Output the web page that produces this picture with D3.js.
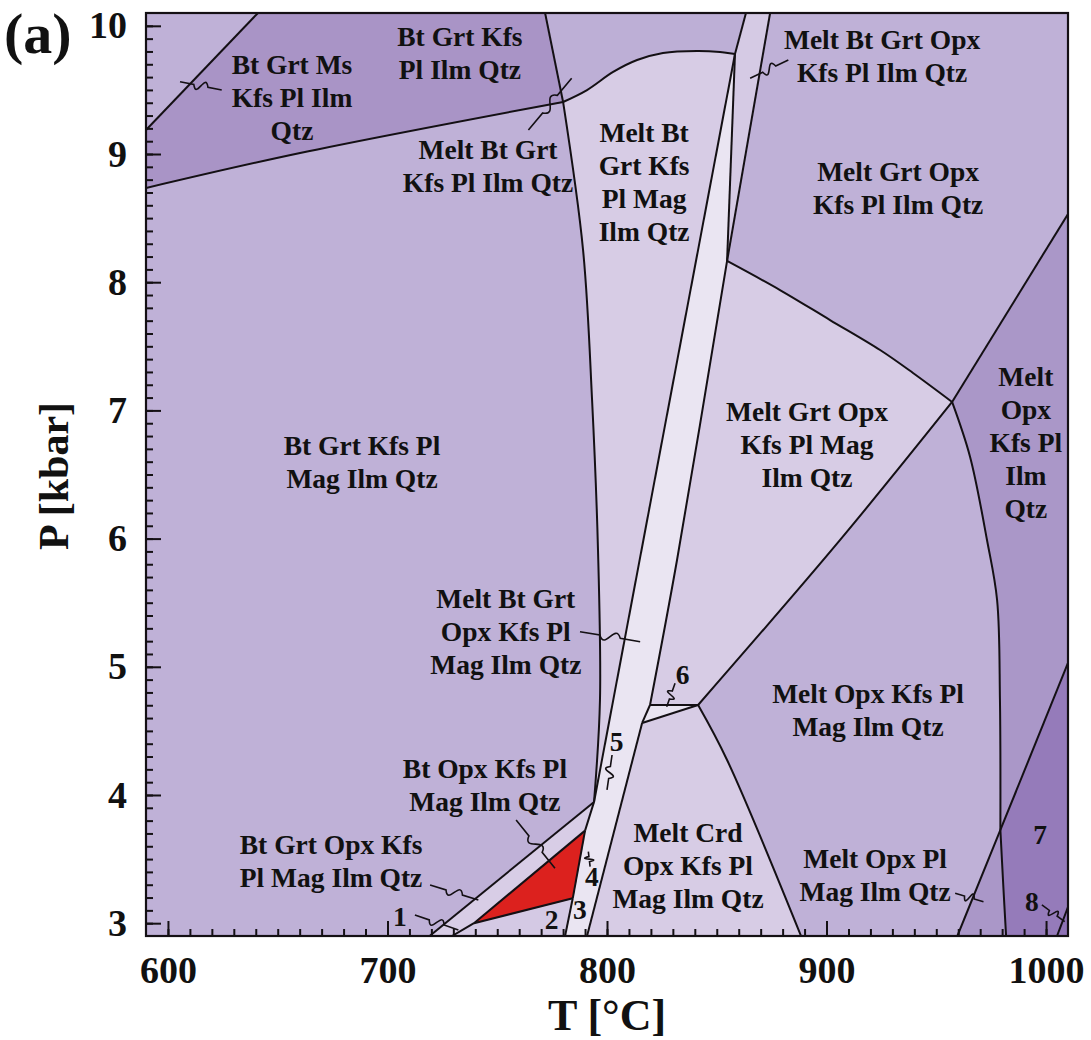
<!DOCTYPE html>
<html><head><meta charset="utf-8">
<script src="https://cdn.jsdelivr.net/npm/d3@7"></script>
<style>
html,body{margin:0;padding:0;background:#fff;}
svg{display:block;}
text{font-family:"Liberation Serif","Times New Roman",serif;font-weight:bold;fill:#111;}
</style></head><body>
<svg id="chart" width="1091" height="1040"></svg>
<script>
// Axis ranges and ticks (T in °C, P in kbar)
const tempDomain = [590, 1010];
const presDomain = [2.9, 10.1];
const tempTicks = [600, 700, 800, 900, 1000];
const presTicks = [3, 4, 5, 6, 7, 8, 9, 10];

// Field boundaries as [T, P] vertices
const msOut = [[590, 9.187], [641.0, 10.1]];
const magOutSub = [[590, 8.735], [660.2, 9.008], [780.0, 9.406]];
const solidusTop = [[771.8, 10.1], [780.0, 9.406]];
const solidus = [[780.0, 9.406], [789.1, 8.251], [793.2, 7.081], [795.9, 5.911], [796.8, 4.741], [794.1, 3.946]];
const magOutMelt = [[780.0, 9.406], [790.9, 9.499], [802.8, 9.640], [813.7, 9.733], [825.5, 9.788], [841.0, 9.804], [851.5, 9.796], [858.3, 9.780]];
const opxInTop = [[863.3, 10.1], [858.3, 9.780]];
const opxIn = [[858.3, 9.780], [794.1, 3.946]];
const magOutBand = [[858.3, 9.780], [854.7, 8.166]];
const btOutTop = [[874.3, 10.1], [854.7, 8.166]];
const btOutUpper = [[854.7, 8.166], [831.9, 5.833], [819.6, 4.702]];
const btOutMid = [[819.6, 4.702], [816.0, 4.562]];
const btOutLower = [[816.0, 4.562], [790.9, 2.9]];
const magOutRight = [[854.7, 8.166], [878.8, 7.939], [901.6, 7.705], [924.4, 7.471], [939.4, 7.292], [957.2, 7.066]];
const grtOutHigh = [[957.2, 7.066], [1010, 8.532]];
const grtOutLow = [[957.2, 7.066], [906.2, 5.99], [841.5, 4.702]];
const magOutHighUpper = [[957.2, 7.066], [965.4, 6.637], [973.1, 5.989], [977.7, 5.521], [979.0, 4.741], [979.2, 3.727]];
const magOutHighLower = [[979.2, 3.727], [980.5, 3.3], [981.8, 2.9]];
const kfsOutUpper = [[1010, 5.030], [979.2, 3.727]];
const kfsOutLower = [[979.2, 3.727], [959.6, 2.9]];
const cornerEight = [[1010, 3.126], [1005.0, 2.9]];
const sixTop = [[819.6, 4.702], [841.5, 4.702]];
const sixBottom = [[816.0, 4.562], [841.5, 4.702]];
const crdOut = [[841.5, 4.702], [854.7, 4.273], [888.4, 2.9]];
const opxInSub = [[719.2, 2.9], [794.1, 3.946]];
const solidusLowA = [[794.1, 3.946], [790.0, 3.722]];
const solidusLowB = [[790.0, 3.722], [784.4, 3.194]];
const solidusLowC = [[784.4, 3.194], [780.9, 2.9]];
const grtOutSubA = [[790.0, 3.722], [739.4, 3.0]];
const grtOutSubB = [[739.4, 3.0], [729.4, 2.9]];
const redBase = [[739.4, 3.0], [784.4, 3.194]];

// Plot corners used to close fields along the frame
const cornerTL = [[590, 10.1]];
const cornerTR = [[1010, 10.1]];
const cornerBR = [[1010, 2.9]];
const cornerBL = [[590, 2.9]];

// Field tints
const tint = {
  base: "#bfb1d7", dark: "#a994c6", meltTop: "#bdafd6", meltMag: "#d7cce5",
  bandUpper: "#d5cae4", bandLower: "#eae5f2", grtOpxMag: "#d7cce5", six: "#e9e4f1",
  crd: "#d7cce5", opxIlm: "#aa97c8", seven: "#957bba", wedge: "#aa97c8",
  eight: "#8e72b5", peak: "#dc211e", subBand: "#d8cde6", two: "#d4c9e4"
};

// Field names: lines of text and anchor [T, P]
const fieldLabels = [
  { text: ["Bt Grt Ms", "Kfs Pl Ilm", "Qtz"], at: [656.5, 9.437] },
  { text: ["Bt Grt Kfs", "Pl Ilm Qtz"], at: [733.0, 9.788] },
  { text: ["Melt Bt Grt", "Kfs Pl Ilm Qtz"], at: [745.8, 8.907] },
  { text: ["Melt Bt", "Grt Kfs", "Pl Mag", "Ilm Qtz"], at: [816.9, 8.78] },
  { text: ["Melt Bt Grt Opx", "Kfs Pl Ilm Qtz"], at: [925.3, 9.765] },
  { text: ["Melt Grt Opx", "Kfs Pl Ilm Qtz"], at: [932.6, 8.735] },
  { text: ["Bt Grt Kfs Pl", "Mag Ilm Qtz"], at: [688.4, 6.598] },
  { text: ["Melt Grt Opx", "Kfs Pl Mag", "Ilm Qtz"], at: [891.1, 6.730] },
  { text: ["Melt", "Opx", "Kfs Pl", "Ilm", "Qtz"], at: [990.8, 6.746] },
  { text: ["Melt Bt Grt", "Opx Kfs Pl", "Mag Ilm Qtz"], at: [753.9, 5.272] },
  { text: ["6"], at: [834.5, 4.936] },
  { text: ["Melt Opx Kfs Pl", "Mag Ilm Qtz"], at: [918.9, 4.663] },
  { text: ["5"], at: [804.4, 4.416] },
  { text: ["Bt Opx Kfs Pl", "Mag Ilm Qtz"], at: [744.4, 4.078] },
  { text: ["Bt Grt Opx Kfs", "Pl Mag Ilm Qtz"], at: [674.3, 3.478] },
  { text: ["Melt Crd", "Opx Kfs Pl", "Mag Ilm Qtz"], at: [836.9, 3.446] },
  { text: ["Melt Opx Pl", "Mag Ilm Qtz"], at: [922.1, 3.376] },
  { text: ["1"], at: [705.7, 3.048] },
  { text: ["2"], at: [774.8, 3.025] },
  { text: ["3"], at: [787.7, 3.103] },
  { text: ["4"], at: [793.1, 3.363] },
  { text: ["7"], at: [997.3, 3.688] },
  { text: ["8"], at: [993.5, 3.168] }
];

// Wavy leaders: [T start, P start, T end, P end]
const leaders = [
  [624.5, 9.499, 605.5, 9.564],
  [764.2, 9.187, 783.9, 9.591],
  [882.6, 9.733, 865.2, 9.591],
  [787.7, 5.274, 815.1, 5.196],
  [831.0, 4.871, 827.2, 4.689],
  [802.3, 4.312, 800.0, 4.039],
  [758.6, 3.805, 776.3, 3.428],
  [719.4, 3.298, 741.4, 3.181],
  [712.5, 3.064, 732.3, 2.947],
  [792.3, 3.441, 791.5, 3.558],
  [958.6, 3.233, 971.5, 3.168],
  [998.1, 3.142, 1008.5, 3.012]
];

const svg = d3.select("#chart");
const x = d3.scaleLinear().domain(tempDomain).range([146, 1068]);
const y = d3.scaleLinear().domain(presDomain).range([936, 13]);
const smooth = d3.line().x(d => x(d[0])).y(d => y(d[1])).curve(d3.curveCatmullRom.alpha(0.5));
const rev = a => a.slice().reverse();

// Closed outline of a field from a chain of boundary pieces
function fieldPath(pieces) {
  return pieces.map((pts, i) => {
    if (pts.length === 1) return (i ? "L" : "M") + x(pts[0][0]) + "," + y(pts[0][1]);
    const s = smooth(pts);
    return i ? "L" + s.slice(1) : s;
  }).join("") + "Z";
}

svg.append("defs").append("clipPath").attr("id", "plotClip")
  .append("rect").attr("x", x(tempDomain[0])).attr("y", y(presDomain[1]))
  .attr("width", x(tempDomain[1]) - x(tempDomain[0]))
  .attr("height", y(presDomain[0]) - y(presDomain[1]));

const plot = svg.append("g").attr("clip-path", "url(#plotClip)");

const fields = [
  [[cornerBL, cornerTL, cornerTR, cornerBR], tint.base],
  [[msOut, solidusTop, rev(magOutSub)], tint.dark],
  [[solidusTop, magOutMelt, rev(opxInTop)], tint.meltTop],
  [[magOutMelt, opxIn, rev(solidus)], tint.meltMag],
  [[opxInTop, magOutBand, rev(btOutTop)], tint.bandUpper],
  [[magOutBand, btOutUpper, btOutMid, btOutLower, rev(solidusLowC), rev(solidusLowB), rev(solidusLowA), rev(opxIn)], tint.bandLower],
  [[magOutRight, grtOutLow, rev(sixTop), rev(btOutUpper)], tint.grtOpxMag],
  [[sixTop, rev(sixBottom)], tint.six],
  [[sixBottom, crdOut, rev(btOutLower)], tint.crd],
  [[grtOutHigh, cornerBR, rev(magOutHighLower), rev(magOutHighUpper)], tint.opxIlm],
  [[kfsOutUpper, magOutHighLower, cornerBR], tint.seven],
  [[magOutHighLower, rev(kfsOutLower)], tint.wedge],
  [[cornerEight, cornerBR], tint.eight],
  [[opxInSub, solidusLowA, grtOutSubA, grtOutSubB], tint.subBand],
  [[redBase, solidusLowC, rev(grtOutSubB)], tint.two],
  [[grtOutSubA, redBase, rev(solidusLowB)], tint.peak]
];

plot.selectAll("path.field").data(fields).join("path")
  .attr("class", "field")
  .attr("d", d => fieldPath(d[0]))
  .attr("fill", d => d[1])
  .attr("stroke", d => d[1]).attr("stroke-width", 0.6);

const boundaries = [msOut, magOutSub, solidusTop, solidus, magOutMelt, opxInTop, opxIn,
  magOutBand, btOutTop, btOutUpper, btOutMid, btOutLower, magOutRight, grtOutHigh, grtOutLow,
  magOutHighUpper, magOutHighLower, kfsOutUpper, kfsOutLower, cornerEight, sixTop, sixBottom,
  crdOut, opxInSub, solidusLowA, solidusLowB, solidusLowC, grtOutSubA, grtOutSubB, redBase];

plot.selectAll("path.boundary").data(boundaries).join("path")
  .attr("class", "boundary")
  .attr("d", smooth)
  .attr("fill", "none").attr("stroke", "#141014").attr("stroke-width", 2)
  .attr("stroke-linejoin", "round");

// Leaders with a small wave in the middle
function leaderPath(d) {
  const x0 = x(d[0]), y0 = y(d[1]), x1 = x(d[2]), y1 = y(d[3]);
  const dx = x1 - x0, dy = y1 - y0, len = Math.hypot(dx, dy);
  const nx = -dy / len * 15, ny = dx / len * 15;
  const p = t => [x0 + dx * t, y0 + dy * t];
  const a = p(0.33), b = p(0.67), c1 = p(0.45), c2 = p(0.55);
  return `M${x0},${y0}L${a[0]},${a[1]}C${c1[0] + nx},${c1[1] + ny} ${c2[0] - nx},${c2[1] - ny} ${b[0]},${b[1]}L${x1},${y1}`;
}
plot.selectAll("path.leader").data(leaders).join("path")
  .attr("class", "leader").attr("d", leaderPath)
  .attr("fill", "none").attr("stroke", "#141014").attr("stroke-width", 1.6);

// Field labels
const fs = 27.5, lh = 33;
const lab = svg.append("g");
fieldLabels.forEach(f => {
  const cx = x(f.at[0]), cy = y(f.at[1]);
  const t = lab.append("text").attr("text-anchor", "middle").style("font-size", fs + "px");
  f.text.forEach((s, i) => {
    t.append("tspan").attr("x", cx)
      .attr("y", cy + (i - (f.text.length - 1) / 2) * lh + fs * 0.33)
      .text(s);
  });
});

// Frame
svg.append("rect").attr("x", x(tempDomain[0])).attr("y", y(presDomain[1]))
  .attr("width", x(tempDomain[1]) - x(tempDomain[0]))
  .attr("height", y(presDomain[0]) - y(presDomain[1]))
  .attr("fill", "none").attr("stroke", "#141014").attr("stroke-width", 2.2);

// Axes with inward ticks
const minorT = d3.range(600, 1010, 10);
const minorP = d3.range(30, 101, 1).map(v => v / 10);
const gx = svg.append("g").attr("transform", `translate(0,${y(presDomain[0])})`);
gx.call(d3.axisBottom(x).tickValues(minorT).tickSize(-7).tickFormat(""));
gx.call(g => g.select(".domain").remove());
const gx2 = svg.append("g").attr("transform", `translate(0,${y(presDomain[0])})`);
gx2.call(d3.axisBottom(x).tickValues(tempTicks).tickSize(-15).tickPadding(20).tickFormat(d3.format("d")));
gx2.call(g => g.select(".domain").remove());

const gy = svg.append("g").attr("transform", `translate(${x(tempDomain[0])},0)`);
gy.call(d3.axisLeft(y).tickValues(minorP).tickSize(-7).tickFormat(""));
gy.call(g => g.select(".domain").remove());
const gy2 = svg.append("g").attr("transform", `translate(${x(tempDomain[0])},0)`);
gy2.call(d3.axisLeft(y).tickValues(presTicks).tickSize(-15).tickPadding(19).tickFormat(d3.format("d")));
gy2.call(g => g.select(".domain").remove());

svg.selectAll(".tick line").attr("stroke", "#141014").attr("stroke-width", 2);
svg.selectAll(".tick text").style("font-size", "38px")
  .style("font-family", '"Liberation Serif","Times New Roman",serif').style("font-weight", "bold").attr("fill", "#111");

// Axis titles and panel tag
svg.append("text").attr("x", 607).attr("y", 1030).attr("text-anchor", "middle")
  .style("font-size", "44px").text("T [°C]");
svg.append("text").attr("transform", "translate(68,476) rotate(-90)").attr("text-anchor", "middle")
  .style("font-size", "42px").text("P [kbar]");
svg.append("text").attr("x", 4).attr("y", 53).style("font-size", "58px").text("(a)");
</script>
</body></html>
